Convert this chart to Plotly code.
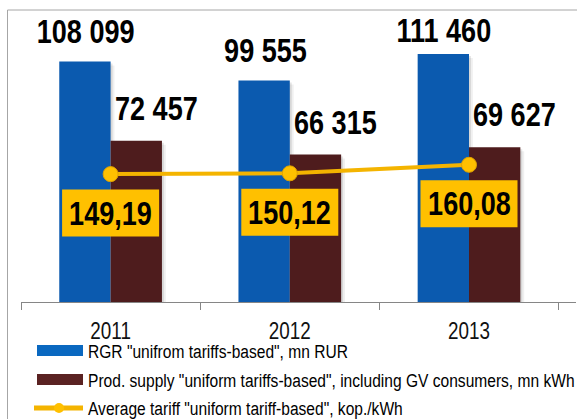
import plotly.graph_objects as go

# ---- data ----
years = ["2011", "2012", "2013"]
rgr_values = [108099, 99555, 111460]          # RGR "unifrom tariffs-based", mn RUR
supply_values = [72457, 66315, 69627]         # Prod. supply ..., mn kWh
tariff_values = [149.19, 150.12, 160.08]      # Average tariff, kop./kWh

legend_labels = [
    'RGR "unifrom tariffs-based", mn RUR',
    'Prod. supply "uniform tariffs-based", including GV consumers, mn kWh',
    'Average tariff "uniform tariff-based", kop./kWh',
]

# ---- style ----
W, H = 577, 419
L, R, T, B = 21, 1, 20, 117
PW, PH = W - L - R, H - T - B
Y_MAX = 126800
BLUE = "#0B5AAF"
BROWN = "#4E1C1D"
GOLD = "#FFC000"
LINE_GOLD = "#F4B400"
FONT = "Liberation Sans, Arial, sans-serif"
NARROW_SCALE = 0.82
BAR_W = 0.2865            # bar width in category units
BAR_HALF = BAR_W / 2
PX_X = 3 / PW * 3         # ~3 px expressed in category units (3 categories over plot width)
PX_Y = Y_MAX / PH         # 1 px in y units


def px_x(p):
    return (p - L) / PW


def px_y(p):
    return (H - B - p) / PH


def fmt_int(v):
    return f"{v:,}".replace(",", " ")


def fmt_dec(v):
    return f"{v:.2f}".replace(".", ",")


big_font = dict(family=FONT, size=33, color="black", weight="bold")

fig = go.Figure()
# soft drop shadows (same data, drawn behind)
for vals, off in ((rgr_values, -BAR_W), (supply_values, 0.0)):
    for k, alpha in ((1, 0.10), (2, 0.06)):
        fig.add_trace(go.Bar(x=years, y=vals, base=-2 * k * PX_Y, width=BAR_W,
                             offset=off + k * PX_X / 3 * 2, hoverinfo="skip",
                             marker=dict(color=f"rgba(0,0,0,{alpha})", line=dict(width=0)),
                             showlegend=False))
fig.add_trace(go.Bar(x=years, y=rgr_values, name=legend_labels[0], width=BAR_W, offset=-BAR_W,
                     marker=dict(color=BLUE, line=dict(width=0)), showlegend=False))
fig.add_trace(go.Bar(x=years, y=supply_values, name=legend_labels[1], width=BAR_W, offset=0,
                     marker=dict(color=BROWN, line=dict(width=0)), showlegend=False))
fig.add_trace(go.Scatter(x=years, y=tariff_values, name=legend_labels[2], yaxis="y2",
                         mode="lines+markers",
                         line=dict(color=LINE_GOLD, width=4),
                         marker=dict(size=15, color=GOLD, line=dict(color="#E0A200", width=1)),
                         showlegend=False))

ann = []
shapes = []
label_cap = 108500
for i, v in enumerate(rgr_values):
    ann.append(dict(x=i - BAR_HALF, y=min(v, label_cap), xref="x", yref="y",
                    text=fmt_int(v), showarrow=False, yanchor="bottom", xshift=1, yshift=10,
                    font=big_font))
for i, v in enumerate(supply_values):
    ann.append(dict(x=i, y=v, xref="x", yref="y", text=fmt_int(v), showarrow=False,
                    xanchor="left", align="left", yanchor="bottom", xshift=2, yshift=12,
                    font=big_font))
for i, v in enumerate(tariff_values):
    shapes.append(dict(type="rect", xref="x", yref="y2", xsizemode="pixel", ysizemode="pixel",
                       xanchor=i, yanchor=v, x0=-48.5, x1=48.5, y0=-39 - 23.5, y1=-39 + 23.5,
                       fillcolor=GOLD, line=dict(width=0), layer="above"))
    ann.append(dict(x=i, y=v, xref="x", yref="y2", text=fmt_dec(v), showarrow=False,
                    yanchor="middle", yshift=-39, font=big_font))

# manual legend
legend_y = [351, 380, 408]
for lbl, yy in zip(legend_labels, legend_y):
    ann.append(dict(x=px_x(86), y=px_y(yy), xref="paper", yref="paper", text=lbl,
                    showarrow=False, xanchor="left", align="left", yanchor="middle",
                    font=dict(family=FONT, size=19, color="black")))

shapes += [
    dict(type="rect", xref="paper", yref="paper", x0=px_x(7.5), x1=px_x(640),
         y0=px_y(480), y1=px_y(10), line=dict(color="#A6A6A6", width=1), layer="below"),
    dict(type="rect", xref="paper", yref="paper", x0=px_x(37), x1=px_x(83),
         y0=px_y(356), y1=px_y(345), line=dict(width=0), fillcolor="#0A68C0"),
    dict(type="rect", xref="paper", yref="paper", x0=px_x(37), x1=px_x(83),
         y0=px_y(385), y1=px_y(374), line=dict(width=0), fillcolor="#5A2222"),
    dict(type="line", xref="paper", yref="paper", x0=px_x(34), x1=px_x(83),
         y0=px_y(408), y1=px_y(408), line=dict(color=LINE_GOLD, width=5)),
    dict(type="circle", xref="paper", yref="paper", x0=px_x(54), x1=px_x(64),
         y0=px_y(413), y1=px_y(403), line=dict(width=0), fillcolor=GOLD),
]

fig.update_layout(
    width=W, height=H,
    margin=dict(l=L, r=R, t=T, b=B),
    paper_bgcolor="white", plot_bgcolor="white",
    barmode="overlay",
    showlegend=False,
    xaxis=dict(type="category", showline=True, linecolor="#868686", linewidth=1,
               ticks="outside", tickson="boundaries", ticklen=7, tickcolor="#868686",
               tickfont=dict(family=FONT, size=23, color="#111111"),
               ticklabelstandoff=8,
               showgrid=False, zeroline=False, fixedrange=True),
    yaxis=dict(range=[0, Y_MAX], visible=False, showgrid=False, zeroline=False),
    yaxis2=dict(range=[0, 329], overlaying="y", visible=False, showgrid=False, zeroline=False),
    annotations=ann,
    shapes=shapes,
)

# Condense all texts horizontally (narrow type look) and remove page margin.
post = """
document.body.style.margin = '0';
var gd = document.getElementById('{plot_id}');
var s = %s;
gd.querySelectorAll('svg text').forEach(function(t) {
  var x = parseFloat(t.getAttribute('x')) || 0;
  var tr = t.getAttribute('transform') || '';
  t.setAttribute('transform', tr + ' translate(' + x + ',0) scale(' + s + ',1) translate(' + (-x) + ',0)');
});
""" % NARROW_SCALE

fig.write_html("out.html", post_script=post, config={"displayModeBar": False})
